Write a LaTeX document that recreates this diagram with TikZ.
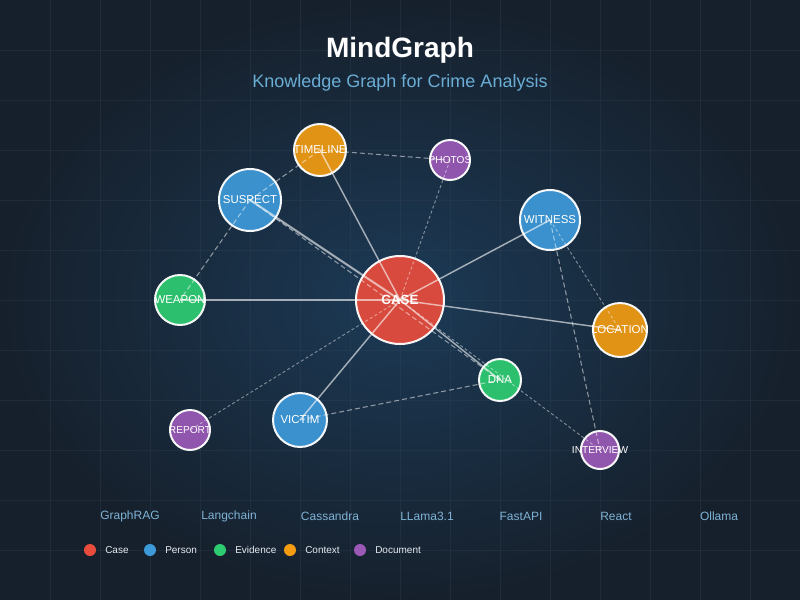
\documentclass[tikz,border=0pt]{standalone}
\usepackage{fontspec}
\setmainfont{Liberation Sans}
\usepackage{xcolor}
\usepackage{tikz}
\definecolor{bgout}{HTML}{16202C}
\definecolor{bgin}{HTML}{1C3A56}
\definecolor{gridc}{HTML}{3A4C60}
\definecolor{casec}{HTML}{E74C3C}
\definecolor{personc}{HTML}{3D9AD9}
\definecolor{evidc}{HTML}{2ECC71}
\definecolor{ctxc}{HTML}{F39C12}
\definecolor{docc}{HTML}{9B59B6}
\definecolor{subc}{HTML}{6AAED6}
\definecolor{techc}{HTML}{7FB3D5}
\definecolor{legc}{HTML}{E6EAF0}
\pgfdeclarelayer{back}
\pgfdeclarelayer{disks}
\pgfdeclarelayer{wires}
\pgfsetlayers{back,disks,wires,main}
\tikzset{
  gridln/.style={draw=gridc, line width=0.75pt, draw opacity=0.25},
  link/.style={draw=white, draw opacity=0.6, line width=1.1pt},
  weak/.style={draw=white, draw opacity=0.5, line width=0.8pt, dash pattern=on 3.75pt off 2.25pt},
  hint/.style={draw=white, draw opacity=0.45, line width=0.7pt, dash pattern=on 2.25pt off 1.8pt},
  ent/.style={circle, draw=white, draw opacity=0.95, fill opacity=0.92, line width=1.5pt, inner sep=0pt},
  rad/.style={minimum size=#1*1.5pt},
  lab/.style={text=white, font=\fontsize{8.6pt}{9pt}\selectfont},
  labs/.style={text=white, font=\fontsize{7.6pt}{8pt}\selectfont},
  labb/.style={text=white, font=\fontsize{10pt}{11pt}\selectfont\bfseries},
  tech/.style={text=techc, font=\fontsize{9pt}{10pt}\selectfont},
  legdot/.style={circle, fill=#1, inner sep=0pt, minimum size=9pt},
  legtxt/.style={text=legc, anchor=west, inner sep=0pt, font=\fontsize{7.5pt}{8pt}\selectfont}
}
\begin{document}
\begin{tikzpicture}[x=0.75pt,y=-0.75pt]
  \useasboundingbox (0,0) rectangle (800,600);
  \begin{pgfonlayer}{back}
    \shade[inner color=bgin, outer color=bgout] (0,0) rectangle (800,600);
    \foreach \g in {50,100,...,750} \draw[gridln] (\g,0) -- (\g,600);
    \foreach \g in {50,100,...,550} \draw[gridln] (0,\g) -- (800,\g);
  \end{pgfonlayer}
  % heading
  \node[text=white, font=\fontsize{21pt}{24pt}\selectfont\bfseries] (title) at (400,50) {MindGraph};
  \node[text=subc, font=\fontsize{13.5pt}{16pt}\selectfont] (subtitle) at (400,83) {Knowledge Graph for Crime Analysis};
  % entities
  \begin{pgfonlayer}{disks}
    \node[ent, rad=44, fill=casec] (case) at (400,300) {};
    \node[ent, rad=31, fill=personc] (suspect) at (250,200) {};
    \node[ent, rad=30, fill=personc] (witness) at (550,220) {};
    \node[ent, rad=27, fill=personc] (victim) at (300,420) {};
    \node[ent, rad=26, fill=ctxc] (timeline) at (320,150) {};
    \node[ent, rad=27, fill=ctxc] (location) at (620,330) {};
    \node[ent, rad=25, fill=evidc] (weapon) at (180,300) {};
    \node[ent, rad=21, fill=evidc] (dna) at (500,380) {};
    \node[ent, rad=20, fill=docc] (photos) at (450,160) {};
    \node[ent, rad=20, fill=docc] (report) at (190,430) {};
    \node[ent, rad=19, fill=docc] (interview) at (600,450) {};
  \end{pgfonlayer}
  \node[labb] (caseT) at (case) {CASE};
  \node[lab] (suspectT) at (suspect) {SUSPECT};
  \node[lab] (witnessT) at (witness) {WITNESS};
  \node[lab] (victimT) at (victim) {VICTIM};
  \node[lab] (timelineT) at (timeline) {TIMELINE};
  \node[lab] (locationT) at (location) {LOCATION};
  \node[lab] (weaponT) at (weapon) {WEAPON};
  \node[lab] (dnaT) at (dna) {DNA};
  \node[labs] (photosT) at (photos) {PHOTOS};
  \node[labs] (reportT) at (report) {REPORT};
  \node[labs] (interviewT) at (interview) {INTERVIEW};
  % relations
  \begin{pgfonlayer}{wires}
    \draw[link, line width=1.9pt] (case.center) -- (weapon.center);
    \draw[link, line width=1.5pt] (case.center) -- (suspect.center);
    \draw[link] (case.center) -- (timeline.center);
    \draw[link] (case.center) -- (witness.center);
    \draw[link] (case.center) -- (location.center);
    \draw[link] (case.center) -- (victim.center);
    \draw[link] (case.center) -- (dna.center);
    \draw[weak] (suspect.center) -- (timeline.center);
    \draw[weak] (suspect.center) -- (weapon.center);
    \draw[weak] (suspect.center) -- (dna.center);
    \draw[weak] (timeline.center) -- (photos.center);
    \draw[weak] (witness.center) -- (interview.center);
    \draw[weak] (victim.center) -- (dna.center);
    \draw[hint] (witness.center) -- (location.center);
    \draw[hint] (case.center) -- (photos.center);
    \draw[hint] (case.center) -- (report.center);
    \draw[hint] (case.center) -- (interview.center);
  \end{pgfonlayer}
  % stack
  \foreach \x/\t [count=\i] in {130/GraphRAG, 229/Langchain, 330/Cassandra, 427/LLama3.1, 521/FastAPI, 616/React, 719/Ollama}
    \node[tech] (tech\i) at (\x,516) {\t};
  % legend
  \foreach \x/\c/\t [count=\i] in {90/casec/Case, 150/personc/Person, 220/evidc/Evidence, 290/ctxc/Context, 360/docc/Document} {
    \node[legdot=\c] (dot\i) at (\x,550) {};
    \node[legtxt] (key\i) at (\x+15,550) {\t};
  }
\end{tikzpicture}
\end{document}
